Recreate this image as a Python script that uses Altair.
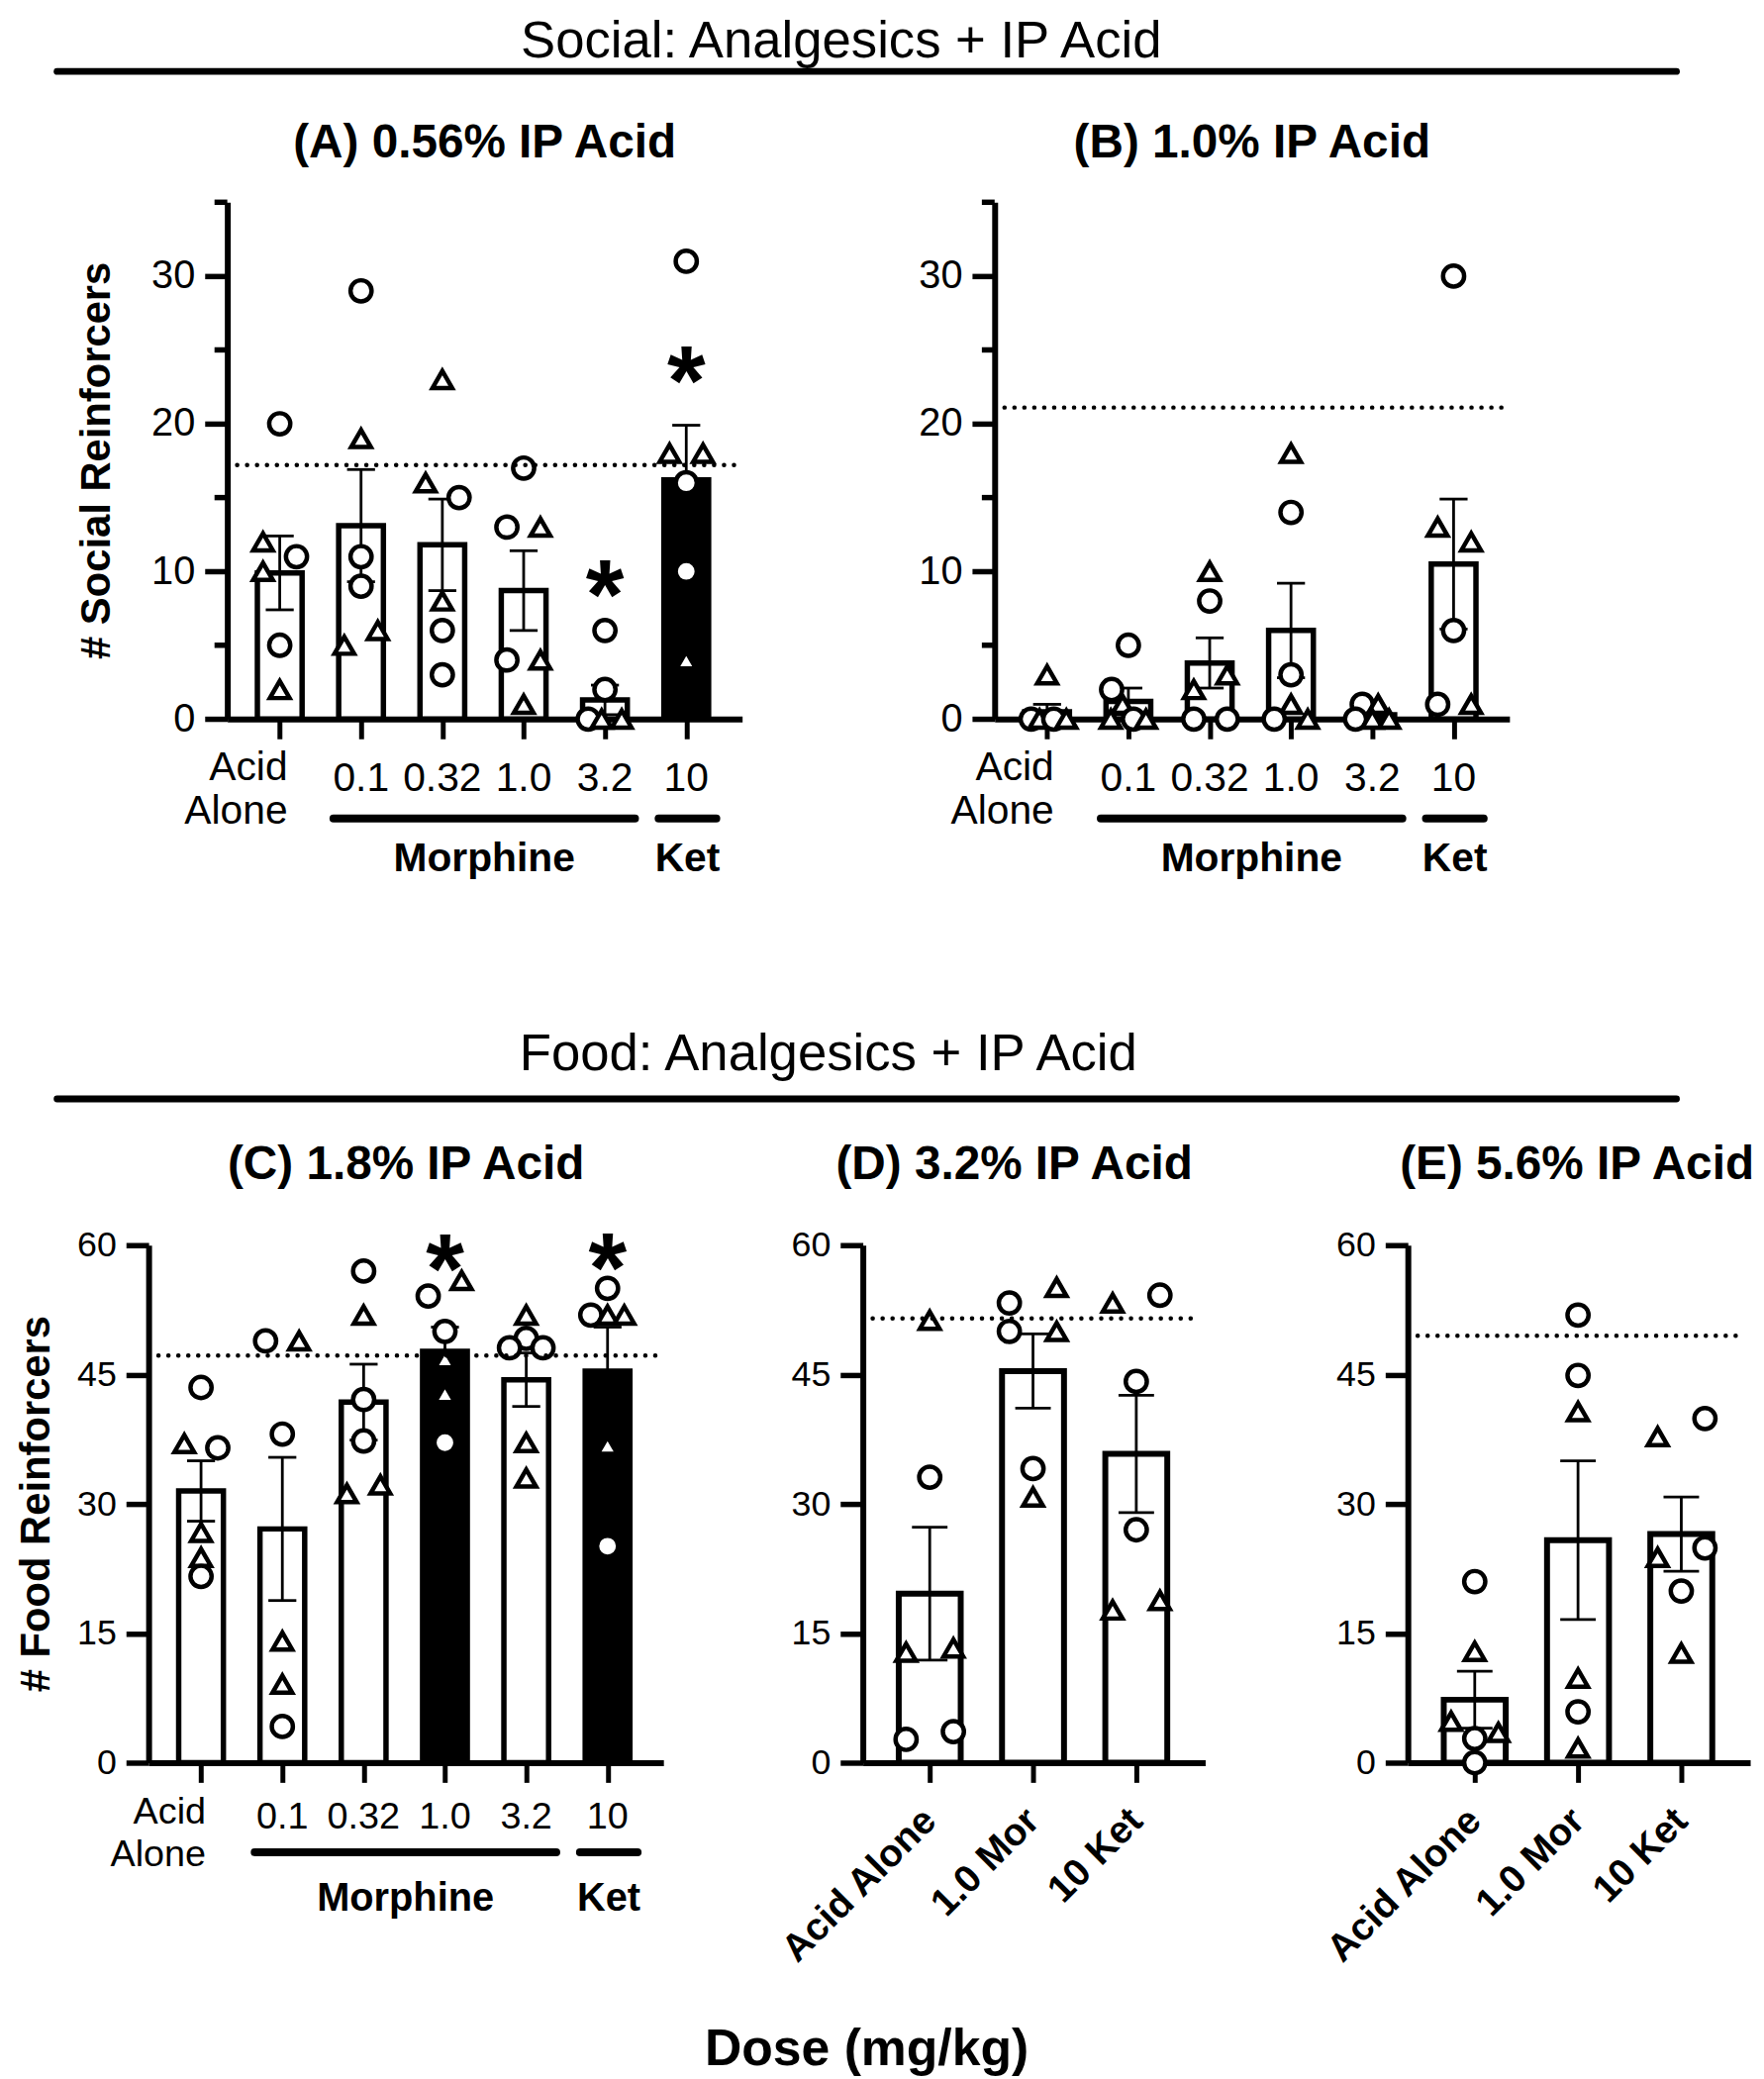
import altair as alt
import pandas as pd

FONT = "Liberation Sans"

# ---------------- categories / labels ----------------
SOC_LABELS = ["Acid Alone", "0.1", "0.32", "1.0", "3.2", "10"]
DE_LABELS = ["Acid Alone", "1.0 Mor", "10 Ket"]
GROUP_NAMES = ["Morphine", "Ket"]
GROUP_FIRST = [2, 6]
GROUP_LAST = [5, 6]

# ---------------- Panel A: 0.56% IP acid (social) ----------------
A_MEAN = [9.9, 13.1, 11.8, 8.7, 1.3, 16.2]
A_SEM = [2.5, 3.8, 3.1, 2.7, 1.0, 3.7]
A_SIG = [0, 0, 0, 0, 0, 1]
A_STAR_BAR = [5, 6]
A_STAR_Y = [9.6, 24.1]
A_BASE = 17.2
A_PT_BAR = [1, 1, 1, 1, 1, 1, 2, 2, 2, 2, 2, 2, 3, 3, 3, 3, 3, 3,
            4, 4, 4, 4, 4, 4, 5, 5, 5, 5, 5, 6, 6, 6, 6, 6, 6]
A_PT_VAL = [20, 12, 11, 10, 5, 2, 29, 19, 11, 9, 5, 6, 23, 16, 15, 8, 6, 3,
            17, 13, 13, 4, 4, 1, 6, 2, 0, 0, 0, 31, 18, 18, 16, 10, 4]
A_PT_SHAPE = ["circle", "triangle", "circle", "triangle", "circle", "triangle",
              "circle", "triangle", "circle", "circle", "triangle", "triangle",
              "triangle", "triangle", "circle", "triangle", "circle", "circle",
              "circle", "circle", "triangle", "circle", "triangle", "triangle",
              "circle", "circle", "circle", "triangle", "triangle",
              "circle", "triangle", "triangle", "circle", "circle", "triangle"]
A_PT_SIDE = [0, -1, 1, -1, 0, 0, 0, 0, 0, 0, -1, 1, 0, -1, 1, 0, 0, 0,
             0, -1, 1, -1, 1, 0, 0, 0, -1, -0.2, 1, 0, -1, 1, 0, 0, 0]

# ---------------- Panel B: 1.0% IP acid (social) ----------------
B_MEAN = [0.5, 1.2, 3.8, 6.0, 0.3, 10.5]
B_SEM = [0.5, 0.9, 1.7, 3.2, 0.2, 4.4]
B_SIG = [0, 0, 0, 0, 0, 0]
B_STAR_BAR = []
B_STAR_Y = []
B_BASE = 21.1
B_PT_BAR = [1, 1, 1, 1, 1, 2, 2, 2, 2, 2, 2, 3, 3, 3, 3, 3, 3,
            4, 4, 4, 4, 4, 4, 5, 5, 5, 5, 5, 6, 6, 6, 6, 6, 6]
B_PT_VAL = [3, 0, 0, 0, 0, 5, 2, 1, 0, 0, 0, 10, 8, 3, 2, 0, 0,
            18, 14, 3, 1, 0, 0, 1, 1, 0, 0, 0, 30, 13, 12, 6, 1, 1]
B_PT_SHAPE = ["triangle", "circle", "triangle", "circle", "triangle",
              "circle", "circle", "triangle", "triangle", "circle", "triangle",
              "triangle", "circle", "triangle", "triangle", "circle", "circle",
              "triangle", "circle", "circle", "triangle", "circle", "triangle",
              "circle", "triangle", "circle", "triangle", "triangle",
              "circle", "triangle", "triangle", "circle", "circle", "triangle"]
B_PT_SIDE = [0, -0.95, -0.45, 0.4, 1.15, 0, -1, -0.35, -1.05, 0.3, 1.05,
             0, 0, 1.05, -0.95, -0.95, 1.05, 0, 0, 0, 0, -1, 1,
             -0.6, 0.35, -1, 0, 1, 0, -0.95, 1.05, 0, -0.95, 1.05]

# ---------------- Panel C: 1.8% IP acid (food) ----------------
C_MEAN = [31.5, 27.1, 41.8, 47.7, 44.4, 45.4]
C_SEM = [3.5, 8.3, 4.4, 2.8, 3.1, 5.1]
C_SIG = [0, 0, 0, 1, 0, 1]
C_STAR_BAR = [4, 6]
C_STAR_Y = [59.2, 59.4]
C_BASE = 47.2
C_PT_BAR = [1] * 6 + [2] * 6 + [3] * 6 + [4] * 6 + [5] * 6 + [6] * 6
C_PT_VAL = [43.5, 37, 36.5, 26.7, 23.8, 21.6,
            48.9, 48.9, 38.1, 14.1, 9.1, 4.2,
            57, 51.9, 42.1, 37.3, 31.2, 32.2,
            55.9, 54.1, 50, 46.8, 42.8, 37.1,
            51.9, 49.2, 48.1, 48.1, 37.1, 33,
            55, 51.9, 51.9, 51.9, 36.8, 25.1]
C_PT_SHAPE = ["circle", "triangle", "circle", "triangle", "triangle", "circle",
              "circle", "triangle", "circle", "triangle", "triangle", "circle",
              "circle", "triangle", "circle", "circle", "triangle", "triangle",
              "triangle", "circle", "circle", "triangle", "triangle", "circle",
              "triangle", "circle", "circle", "circle", "triangle", "triangle",
              "circle", "circle", "triangle", "triangle", "triangle", "circle"]
C_PT_SIDE = [0, -1, 1, 0, 0, 0,
             -1, 1, 0, 0, 0, 0,
             0, 0, 0, 0, -1, 1,
             1, -1, 0, 0, 0, 0,
             0, 0, -1, 1, 0, 0,
             0, -1, 0, 1, 0, 0]

# ---------------- Panel D: 3.2% IP acid (food) ----------------
D_MEAN = [19.6, 45.4, 35.8]
D_SEM = [7.7, 4.3, 6.8]
D_SIG = [0, 0, 0]
D_BASE = 51.5
D_PT_BAR = [1] * 6 + [2] * 6 + [3] * 6
D_PT_VAL = [51.3, 33.1, 12.8, 13.3, 2.7, 3.6,
            53.3, 50, 55.1, 50, 34.1, 30.8,
            53.3, 54.2, 44.2, 27, 17.7, 18.8]
D_PT_SHAPE = ["triangle", "circle", "triangle", "triangle", "circle", "circle",
              "circle", "circle", "triangle", "triangle", "circle", "triangle",
              "triangle", "circle", "circle", "circle", "triangle", "triangle"]
D_PT_SIDE = [0, 0, -1, 1, -1, 1,
             -1, -1, 1, 1, 0, 0,
             -1, 1, 0, 0, -1, 1]

# ---------------- Panel E: 5.6% IP acid (food) ----------------
E_MEAN = [7.3, 25.8, 26.5]
E_SEM = [3.3, 9.2, 4.3]
E_SIG = [0, 0, 0]
E_BASE = 49.5
E_PT_BAR = [1] * 6 + [2] * 6 + [3] * 6
E_PT_VAL = [21, 12.9, 4.8, 3.5, 2.8, 0,
            51.9, 44.9, 40.7, 9.8, 5.9, 1.7,
            39.9, 37.8, 24.9, 23.8, 19.9, 12.7]
E_PT_SHAPE = ["circle", "triangle", "triangle", "triangle", "circle", "circle",
              "circle", "circle", "triangle", "triangle", "circle", "triangle",
              "circle", "triangle", "circle", "triangle", "circle", "triangle"]
E_PT_SIDE = [0, 0, -1, 1, 0, 0,
             0, 0, 0, 0, 0, 0,
             1, -1, 1, -1, 0, 0]


SHAPE_SCALE = alt.Scale(domain=["circle", "triangle"], range=["circle", "triangle-up"])
SIZE_SCALE = alt.Scale(domain=["circle", "triangle"], range=[460, 400])


def spacer(w, h=1):
    return alt.Chart(pd.DataFrame({"z": [0]})).mark_point(opacity=0).encode(
        x=alt.value(0), y=alt.value(0)).properties(width=w, height=h)


def header(text, w, h, ty, ly, tx, fs):
    df = pd.DataFrame({"t": [text]})
    txt = alt.Chart(df).mark_text(font=FONT, fontSize=fs, align="center",
                                  baseline="alphabetic", color="black").encode(
        x=alt.value(tx), y=alt.value(ty), text="t:N")
    line = alt.Chart(df).mark_rule(color="black", strokeWidth=7, strokeCap="round").encode(
        x=alt.value(46), x2=alt.value(1692), y=alt.value(ly))
    return alt.layer(txt, line).properties(width=w, height=h)


def panel(mean, sem, sig, pt_bar, pt_val, pt_shape, pt_side, star_bar, star_y, base,
          title, w, h, ymax, major, minor, xdom, half, spread, bsw, ylab_size,
          title_y, title_dx, ytitle=None, ytitle_x=0, labels=None, style=None):
    n = len(mean)
    idx = list(range(1, n + 1))
    xs = alt.Scale(domain=xdom, nice=False, zero=False)
    ys = alt.Scale(domain=[0, ymax], nice=False, zero=True)
    xaxis = alt.Axis(values=idx, labels=False, title=None, ticks=True, tickSize=20,
                     tickWidth=5, tickColor="black", domainColor="black", domainWidth=6,
                     grid=False)
    yaxis = alt.Axis(values=major, title=None, tickSize=23, tickWidth=5.5,
                     tickColor="black", domainColor="black", domainWidth=6, grid=False,
                     labelFont=FONT, labelFontSize=ylab_size, labelColor="black",
                     labelPadding=10)

    def X(f):
        return alt.X(f, scale=xs, axis=xaxis)

    def Y(f):
        return alt.Y(f, scale=ys, axis=yaxis)

    bars = pd.DataFrame({"i": idx, "mean": mean, "sem": sem, "sig": sig})
    layers = []
    layers.append(
        alt.Chart(bars).transform_calculate(
            x1=f"datum.i - {half}", x2=f"datum.i + {half}", zero="0",
            col="datum.sig == 1 ? 'black' : 'white'"
        ).mark_rect(stroke="black", strokeWidth=bsw).encode(
            x=X("x1:Q"), x2="x2:Q", y=Y("zero:Q"), y2="mean:Q",
            fill=alt.Fill("col:N", scale=None))
    )
    err = alt.Chart(bars).transform_calculate(
        lo="max(0, datum.mean - datum.sem)", hi="datum.mean + datum.sem",
        c1="datum.i - 0.172", c2="datum.i + 0.172")
    layers.append(err.mark_rule(color="black", strokeWidth=2.8).encode(
        x=X("i:Q"), y=Y("lo:Q"), y2="hi:Q"))
    layers.append(err.mark_rule(color="black", strokeWidth=2.8).encode(
        x=X("c1:Q"), x2="c2:Q", y=Y("hi:Q")))
    layers.append(err.mark_rule(color="black", strokeWidth=2.8).encode(
        x=X("c1:Q"), x2="c2:Q", y=Y("lo:Q")))

    pts = pd.DataFrame({"i": pt_bar, "v": pt_val, "shape": pt_shape, "side": pt_side})
    layers.append(
        alt.Chart(pts).transform_calculate(px=f"datum.i + datum.side * {spread}")
        .mark_point(filled=True, fill="white", stroke="black", strokeWidth=4.5, opacity=1)
        .encode(x=X("px:Q"), y=Y("v:Q"),
                shape=alt.Shape("shape:N", scale=SHAPE_SCALE, legend=None),
                size=alt.Size("shape:N", scale=SIZE_SCALE, legend=None))
    )
    layers.append(
        alt.Chart(pd.DataFrame({"b": [base]})).mark_rule(
            color="black", strokeWidth=4.5, strokeDash=[0.1, 10], strokeCap="round"
        ).encode(x=alt.value(10), x2=alt.value(w - 5), y=Y("b:Q"))
    )
    if star_bar:
        stars = pd.DataFrame({"i": star_bar, "s": star_y, "t": ["*"] * len(star_bar)})
        layers.append(alt.Chart(stars).mark_text(
            font=FONT, fontSize=100, fontWeight="bold", align="center",
            baseline="alphabetic", dy=52, color="black").encode(
            x=X("i:Q"), y=Y("s:Q"), text="t:N"))
    if minor:
        layers.append(alt.Chart(pd.DataFrame({"m": minor})).mark_rule(
            color="black", strokeWidth=5.5).encode(
            x=alt.value(-13), x2=alt.value(0), y=Y("m:Q")))

    lab = pd.DataFrame({"i": idx, "lab": labels})
    if style["kind"] == "doses":
        fs = style["fs"]
        layers.append(alt.Chart(lab).transform_filter("datum.i > 1").mark_text(
            font=FONT, fontSize=fs, align="center", baseline="alphabetic", color="black"
        ).encode(x=X("i:Q"), y=alt.value(h + style["num"]), text="lab:N"))
        for word, key in (("Acid", "acid"), ("Alone", "alone")):
            layers.append(alt.Chart(lab).transform_filter("datum.i == 1").transform_calculate(
                w=f"'{word}'").mark_text(
                font=FONT, fontSize=fs, align="right", baseline="alphabetic",
                dx=style["adx"], color="black"
            ).encode(x=X("i:Q"), y=alt.value(h + style[key]), text="w:N"))
        grp = pd.DataFrame({"g": GROUP_NAMES, "a": GROUP_FIRST, "b": GROUP_LAST})
        gch = alt.Chart(grp).transform_calculate(
            g1="datum.a - 0.34", g2="datum.b + 0.37", gm="(datum.a + datum.b) / 2 + 0.015")
        layers.append(gch.mark_rule(color="black", strokeWidth=8, strokeCap="round").encode(
            x=X("g1:Q"), x2="g2:Q", y=alt.value(h + style["ul"])))
        layers.append(gch.mark_text(
            font=FONT, fontSize=style["gfs"], fontWeight="bold", align="center",
            baseline="alphabetic", color="black").encode(
            x=X("gm:Q"), y=alt.value(h + style["grp"]), text="g:N"))
    else:
        layers.append(alt.Chart(lab).mark_text(
            font=FONT, fontSize=style["fs"], fontWeight="bold", angle=315, align="right",
            baseline="middle", color="black").encode(
            x=X("i:Q"), y=alt.value(h + style["num"]), text="lab:N"))

    layers.append(alt.Chart(pd.DataFrame({"t": [title]})).mark_text(
        font=FONT, fontSize=48, fontWeight="bold", align="center", baseline="alphabetic",
        color="black").encode(x=alt.value(w / 2 + title_dx), y=alt.value(title_y), text="t:N"))
    if ytitle:
        layers.append(alt.Chart(pd.DataFrame({"t": [ytitle]})).mark_text(
            font=FONT, fontSize=42, fontWeight="bold", align="center", baseline="middle",
            angle=270, color="black").encode(
            x=alt.value(ytitle_x), y=alt.value(h / 2), text="t:N"))
    return alt.layer(*layers).properties(width=w, height=h)


WS, HS = 523.3, 525.3
WF, HF = 523.3, 526
WDE = 348
SOC_DOM = [0.355, 6.687]
DE_DOM = [0.352, 3.667]

soc_style = {"kind": "doses", "fs": 41, "num": 73, "acid": 62, "alone": 106,
             "adx": 8, "ul": 101, "grp": 155, "gfs": 41}
food_style = {"kind": "doses", "fs": 38, "num": 67, "acid": 62, "alone": 105,
              "adx": 5, "ul": 91, "grp": 150, "gfs": 40}
rot_style = {"kind": "rot", "fs": 39, "num": 53}

pA = panel(A_MEAN, A_SEM, A_SIG, A_PT_BAR, A_PT_VAL, A_PT_SHAPE, A_PT_SIDE,
           A_STAR_BAR, A_STAR_Y, A_BASE, "(A) 0.56% IP Acid", WS, HS, 35,
           [0, 10, 20, 30], [5, 15, 25, 35], SOC_DOM, 0.275, 0.206, 5.5, 40,
           -46, 0, ytitle="# Social Reinforcers", ytitle_x=-132.7,
           labels=SOC_LABELS, style=soc_style)
pB = panel(B_MEAN, B_SEM, B_SIG, B_PT_BAR, B_PT_VAL, B_PT_SHAPE, B_PT_SIDE,
           B_STAR_BAR, B_STAR_Y, B_BASE, "(B) 1.0% IP Acid", WS, HS, 35,
           [0, 10, 20, 30], [5, 15, 25, 35], SOC_DOM, 0.275, 0.206, 5.5, 40,
           -46, 0, labels=SOC_LABELS, style=dict(soc_style, adx=7))
pC = panel(C_MEAN, C_SEM, C_SIG, C_PT_BAR, C_PT_VAL, C_PT_SHAPE, C_PT_SIDE,
           C_STAR_BAR, C_STAR_Y, C_BASE, "(C) 1.8% IP Acid", WF, HF, 60,
           [0, 15, 30, 45, 60], [], SOC_DOM, 0.275, 0.206, 5.5, 36,
           -67, 0, ytitle="# Food Reinforcers", ytitle_x=-113.7,
           labels=SOC_LABELS, style=food_style)
pD = panel(D_MEAN, D_SEM, D_SIG, D_PT_BAR, D_PT_VAL, D_PT_SHAPE, D_PT_SIDE,
           [], [], D_BASE, "(D) 3.2% IP Acid", WDE, HF, 60,
           [0, 15, 30, 45, 60], [], DE_DOM, 0.3, 0.229, 6, 36,
           -67, -20, labels=DE_LABELS, style=rot_style)
pE = panel(E_MEAN, E_SEM, E_SIG, E_PT_BAR, E_PT_VAL, E_PT_SHAPE, E_PT_SIDE,
           [], [], E_BASE, "(E) 5.6% IP Acid", WDE, HF, 60,
           [0, 15, 30, 45, 60], [], DE_DOM, 0.3, 0.229, 6, 36,
           -67, -2, labels=DE_LABELS, style=rot_style)

head_social = header("Social: Analgesics + IP Acid", 1700, 190, 42.5, 57, 843, 53)
head_food = header("Food: Analgesics + IP Acid", 1700, 533.7, 355.7, 385.3, 830, 53)
footer = alt.Chart(pd.DataFrame({"t": ["Dose (mg/kg)"]})).mark_text(
    font=FONT, fontSize=52, fontWeight="bold", align="center", baseline="alphabetic",
    color="black").encode(x=alt.value(869), y=alt.value(307), text="t:N").properties(
    width=1700, height=290)

row_social = alt.hconcat(spacer(218.7), pA, spacer(256), pB, spacing=0, bounds="flush")
row_food = alt.hconcat(spacer(138.7), pC, spacer(201.7), pD, spacer(205.3), pE,
                       spacing=0, bounds="flush")

# nested concat rows take no height in a flush layout: follow each by a spacer of its height
chart = alt.vconcat(head_social, row_social, spacer(10, HS), head_food, row_food,
                    spacer(10, HF), footer,
                    spacing=0, bounds="flush").properties(padding=0).configure_view(
    stroke="transparent")

chart.save("out.html", embed_options={"renderer": "svg", "actions": False})
